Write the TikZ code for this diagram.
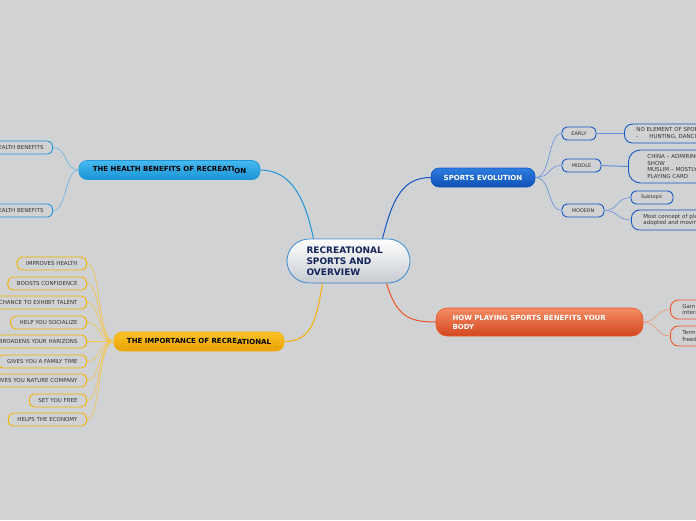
\documentclass[tikz,border=0pt]{standalone}
\usepackage{fontspec}
\setmainfont{DejaVu Sans}
\begin{document}
\begin{tikzpicture}[x=1pt,y=-1pt,
    leaf/.style={draw, line width=0.9pt, fill=mybg, rounded corners=5pt, minimum height=13pt,
        inner xsep=9pt, inner ysep=1pt, text=mytext, font=\fontsize{5.5}{6.5}\selectfont},
    note/.style={leaf, align=left, inner xsep=12pt, rounded corners=8pt},
    topic/.style={rounded corners=8pt, line width=0.6pt, minimum height=19pt, inner sep=1pt,
        font=\fontsize{7}{9}\selectfont\bfseries},
    link/.style={line width=1pt},
    twig/.style={line width=0.6pt}]
    \definecolor{mybg}{RGB}{209,210,212}
    \definecolor{mytext}{RGB}{51,51,51}
    \definecolor{myctrline}{RGB}{58,138,208}
    \definecolor{myctrlow}{RGB}{198,203,208}
    \definecolor{myctrtext}{RGB}{20,36,90}
    \definecolor{myhealthline}{RGB}{30,150,215}
    \definecolor{myhealthtop}{RGB}{70,185,240}
    \definecolor{myhealthbot}{RGB}{25,148,212}
    \definecolor{myhealthtwig}{RGB}{100,180,230}
    \definecolor{myseline}{RGB}{20,85,195}
    \definecolor{mysetop}{RGB}{45,125,225}
    \definecolor{mysebot}{RGB}{15,80,180}
    \definecolor{mysetwig}{RGB}{100,145,220}
    \definecolor{myimpline}{RGB}{245,178,0}
    \definecolor{myimptop}{RGB}{252,195,40}
    \definecolor{myimpbot}{RGB}{232,160,0}
    \definecolor{myimptwig}{RGB}{246,196,70}
    \definecolor{myorline}{RGB}{235,85,40}
    \definecolor{myortop}{RGB}{245,140,100}
    \definecolor{myorbot}{RGB}{210,70,30}
    \definecolor{myortwig}{RGB}{238,150,115}

    \useasboundingbox (0,0) rectangle (696,520);
    \fill[mybg] (0,0) rectangle (696,520);
    \clip (0,0) rectangle (696,520);

    % central topic
    \node[draw=myctrline, line width=0.8pt, rounded corners=22pt, top color=white, bottom color=myctrlow,
        minimum width=123pt, minimum height=44pt, text=myctrtext, align=left, text width=84pt,
        font=\fontsize{9}{11}\selectfont\bfseries] (ctr) at (348.5,261) {RECREATIONAL\\SPORTS AND\\OVERVIEW};

    % main topics
    \node[topic, draw=myhealthline, top color=myhealthtop, bottom color=myhealthbot, minimum width=181pt]
        (hb) at (169.5,170) {THE HEALTH BENEFITS OF RECREATI\raisebox{-1.2pt}{ON}};
    \node[topic, draw=myseline, top color=mysetop, bottom color=mysebot, text=white, minimum width=104pt]
        (se) at (483,177.5) {SPORTS EVOLUTION};
    \node[topic, draw=myimpline, top color=myimptop, bottom color=myimpbot, minimum width=170pt]
        (imp) at (199,341.5) {THE IMPORTANCE OF RECRE\raisebox{-1.2pt}{ATIONAL}};
    \node[topic, draw=myorline, top color=myortop, bottom color=myorbot, text=white, rounded corners=11pt,
        minimum height=28pt, align=left, text width=174pt, inner xsep=16.5pt]
        (hp) at (539.5,322) {HOW PLAYING SPORTS BENEFITS YOUR\\BODY};

    % health subtopics
    \node[leaf, draw=myhealthline, anchor=east] (hb1) at (53,147.5) {HEALTH BENEFITS};
    \node[leaf, draw=myhealthline, anchor=east] (hb2) at (53,210.5) {HEALTH BENEFITS};

    % importance subtopics
    \node[leaf, draw=myimpline, anchor=east] (imp1) at (87,263.5) {IMPROVES HEALTH};
    \node[leaf, draw=myimpline, anchor=east] (imp2) at (87,283.5) {BOOSTS CONFIDENCE};
    \node[leaf, draw=myimpline, anchor=east] (imp3) at (87,302.5) {CHANCE TO EXHIBIT TALENT};
    \node[leaf, draw=myimpline, anchor=east] (imp4) at (87,322.5) {HELP YOU SOCIALIZE};
    \node[leaf, draw=myimpline, anchor=east] (imp5) at (87,341.5) {BROADENS YOUR HARIZONS};
    \node[leaf, draw=myimpline, anchor=east] (imp6) at (87,361.5) {GIVES YOU A FAMILY TIME};
    \node[leaf, draw=myimpline, anchor=east] (imp7) at (87,380.5) {GIVES YOU NATURE COMPANY};
    \node[leaf, draw=myimpline, anchor=east] (imp8) at (87,400.5) {SET YOU FREE};
    \node[leaf, draw=myimpline, anchor=east] (imp9) at (87,419.5) {HELPS THE ECONOMY};

    % sports evolution subtopics
    \node[leaf, draw=myseline, minimum width=34pt, font=\fontsize{5}{6}\selectfont] (early) at (579,133.5) {EARLY};
    \node[leaf, draw=myseline, minimum width=39pt, font=\fontsize{5}{6}\selectfont] (middle) at (581.5,165.5) {MIDDLE};
    \node[leaf, draw=myseline, minimum width=42pt, font=\fontsize{5}{6}\selectfont] (modern) at (583,210.5) {MODERN};
    \node[note, draw=myseline, anchor=west, minimum height=19pt, text width=90pt]
        (early1) at (624,133.5) {NO ELEMENT OF SPORTS\\-\hspace{11pt}HUNTING, DANCING};
    \node[note, draw=myseline, anchor=west, minimum height=33pt, text width=80pt, inner xsep=19pt,
        rounded corners=12pt] (middle1) at (628,166.5) {CHINA – ADMIRING\\SHOW\\MUSLIM – MOSTLY\\PLAYING CARD};
    \node[leaf, draw=myseline, minimum width=42pt, font=\fontsize{5}{6}\selectfont] (modern1) at (652,197.5) {Subtopic};
    \node[note, draw=myseline, anchor=west, minimum height=20pt, text width=90pt]
        (modern2) at (631,220) {Most concept of play\\adopted and moving};

    % body subtopics
    \node[note, draw=myorline, anchor=west, minimum height=19pt, text width=60pt] (hp1) at (670,309.5) {Gain\\interaction};
    \node[note, draw=myorline, anchor=west, minimum height=20pt, text width=60pt] (hp2) at (670,336) {Term\\freedom};

    % main links
    \draw[link, myhealthline] (hb.east) .. controls +(32,0) and +(-8,-38) .. ([xshift=-35pt]ctr.north);
    \draw[link, myseline] ([xshift=34pt]ctr.north) .. controls +(10,-40) and +(-28,0) .. (se.west);
    \draw[link, myimpline] ([xshift=-26pt]ctr.south) .. controls +(-6,35) and +(28,0) .. (imp.east);
    \draw[link, myorline] ([xshift=38pt]ctr.south) .. controls +(10,32) and +(-28,0) .. (hp.west);

    % subtopic links
    \draw[twig, myhealthtwig] (hb.west) .. controls +(-14,0) and +(14,0) .. (hb1.east);
    \draw[twig, myhealthtwig] (hb.west) .. controls +(-14,0) and +(14,0) .. (hb2.east);

    \draw[twig, myimptwig] (imp.west) .. controls +(-16,0) and +(14,0) .. (imp1.east);
    \draw[twig, myimptwig] (imp.west) .. controls +(-16,0) and +(14,0) .. (imp2.east);
    \draw[twig, myimptwig] (imp.west) .. controls +(-16,0) and +(14,0) .. (imp3.east);
    \draw[twig, myimptwig] (imp.west) .. controls +(-16,0) and +(14,0) .. (imp4.east);
    \draw[twig, myimptwig] (imp.west) .. controls +(-16,0) and +(14,0) .. (imp5.east);
    \draw[twig, myimptwig] (imp.west) .. controls +(-16,0) and +(14,0) .. (imp6.east);
    \draw[twig, myimptwig] (imp.west) .. controls +(-16,0) and +(14,0) .. (imp7.east);
    \draw[twig, myimptwig] (imp.west) .. controls +(-16,0) and +(14,0) .. (imp8.east);
    \draw[twig, myimptwig] (imp.west) .. controls +(-16,0) and +(14,0) .. (imp9.east);

    \draw[twig, mysetwig] (se.east) .. controls +(16,0) and +(-14,0) .. (early.west);
    \draw[twig, mysetwig] (se.east) .. controls +(16,0) and +(-14,0) .. (middle.west);
    \draw[twig, mysetwig] (se.east) .. controls +(16,0) and +(-14,0) .. (modern.west);
    \draw[twig, mysetwig] (early.east) -- (early1.west);
    \draw[link, mysetwig] (middle.east) -- (middle1.west);
    \draw[twig, mysetwig] (modern.east) .. controls +(14,0) and +(-14,0) .. (modern1.west);
    \draw[twig, mysetwig] (modern.east) .. controls +(14,0) and +(-14,0) .. (modern2.west);

    \draw[twig, myortwig] (hp.east) .. controls +(14,0) and +(-14,0) .. (hp1.west);
    \draw[twig, myortwig] (hp.east) .. controls +(14,0) and +(-14,0) .. (hp2.west);
\end{tikzpicture}
\end{document}
